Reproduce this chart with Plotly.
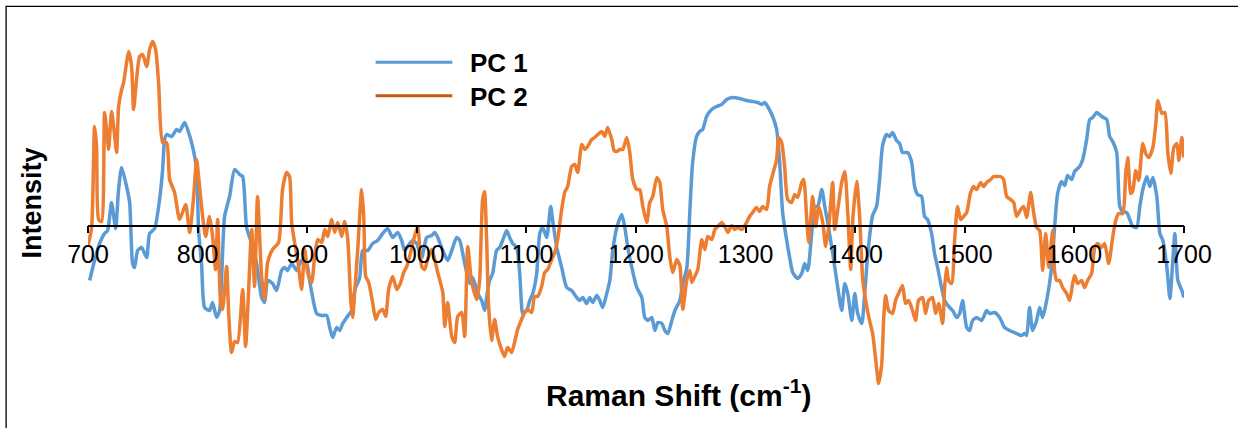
import plotly.graph_objects as go

# ---------------- data (Raman shift in cm-1, intensity in arbitrary units) ----------------
pc1_x = [701.5, 706.0, 710.6, 715.1, 717.9, 721.5, 725.2, 727.9, 730.7, 735.2, 738.0, 740.7, 742.5, 745.3,
         748.9, 753.5, 756.2, 760.8, 765.3, 768.1, 769.9, 771.7, 776.3, 780.8, 783.6, 788.1, 790.9, 795.4,
         799.1, 800.9, 803.6, 806.4, 810.9, 813.7, 817.3, 820.1, 824.6, 829.2, 833.8, 838.3, 841.1, 844.7,
         849.3, 853.9, 858.4, 861.2, 863.9, 868.4, 872.1, 876.6, 879.4, 882.1, 885.8, 890.4, 894.9, 899.5,
         902.2, 905.0, 908.6, 913.2, 917.8, 920.5, 923.2, 926.9, 929.6, 932.4, 936.0, 940.6, 943.3, 947.9,
         950.6, 955.2, 959.7, 964.3, 968.9, 973.4, 978.0, 982.6, 986.2, 988.9, 993.5, 996.3, 999.9, 1004.5,
         1009.0, 1013.6, 1016.4, 1019.1, 1023.7, 1028.2, 1031.9, 1036.4, 1039.2, 1043.7, 1048.3, 1051.0,
         1055.6, 1059.2, 1062.0, 1063.7, 1066.4, 1069.2, 1072.8, 1075.6, 1078.3, 1082.0, 1084.7, 1087.5,
         1091.1, 1093.9, 1095.7, 1096.6, 1100.3, 1103.0, 1105.8, 1109.4, 1112.2, 1114.9, 1118.5, 1122.2,
         1124.0, 1127.7, 1132.2, 1136.8, 1141.3, 1145.9, 1148.6, 1151.4, 1155.0, 1157.8, 1160.5, 1164.2,
         1166.9, 1169.7, 1173.3, 1176.1, 1178.8, 1182.5, 1187.0, 1189.8, 1192.5, 1196.2, 1200.7, 1205.3,
         1208.0, 1210.8, 1214.4, 1217.2, 1219.9, 1223.6, 1226.3, 1229.1, 1232.7, 1235.5, 1240.0, 1242.8,
         1246.4, 1249.2, 1251.6, 1255.3, 1258.0, 1260.8, 1264.4, 1269.0, 1273.5, 1278.1, 1282.7, 1288.1,
         1294.5, 1300.9, 1306.4, 1311.0, 1314.6, 1317.4, 1320.1, 1324.7, 1328.3, 1331.1, 1333.8, 1337.5,
         1340.2, 1343.0, 1347.5, 1351.2, 1353.9, 1356.7, 1360.3, 1363.1, 1365.8, 1369.5, 1372.2, 1374.9,
         1379.5, 1384.1, 1387.7, 1390.5, 1393.2, 1396.9, 1399.6, 1402.3, 1406.0, 1408.7, 1411.5, 1415.9,
         1419.5, 1422.2, 1425.0, 1428.6, 1431.3, 1434.1, 1437.7, 1440.5, 1443.2, 1447.8, 1451.4, 1454.2,
         1456.9, 1460.6, 1463.3, 1466.0, 1469.7, 1472.4, 1475.2, 1478.8, 1481.6, 1486.1, 1488.9, 1492.5,
         1495.3, 1498.0, 1501.7, 1504.4, 1507.1, 1510.8, 1515.4, 1519.9, 1522.6, 1527.2, 1531.8, 1536.3,
         1540.9, 1547.3, 1551.8, 1554.6, 1556.4, 1559.1, 1561.9, 1565.5, 1568.3, 1571.0, 1574.7, 1579.2,
         1581.9, 1584.7, 1588.3, 1591.1, 1593.8, 1597.5, 1600.2, 1604.8, 1607.6, 1611.2, 1614.0, 1616.7,
         1620.4, 1624.9, 1629.5, 1632.2, 1635.0, 1638.6, 1641.4, 1644.1, 1647.8, 1650.5, 1653.3, 1656.9,
         1659.7, 1662.4, 1666.1, 1668.8, 1671.6, 1675.2, 1678.0, 1680.7, 1684.4, 1687.1, 1689.8, 1691.7,
         1694.4, 1698.1, 1699.9]
pc1_y = [-5.5, -3.5, -1.8, -0.8, -0.5, 2.3, -0.3, 3.6, 5.8, 3.9, 2.3, -3.8, -4.2, -2.5,
         -2.2, -3.2, -0.8, -0.3, 2.6, 5.6, 8.6, 9.1, 8.9, 9.6, 9.4, 10.3, 9.6, 7.9,
         5.6, -0.5, -3.8, -8.2, -8.5, -7.7, -9.2, -8.5, 0.9, 2.9, 5.6, 5.1, 4.9, -0.2,
         -1.8, -3.8, -7.2, -7.7, -5.5, -5.8, -6.5, -4.5, -4.2, -4.5, -3.8, -4.5, -3.5, -3.8,
         -5.5, -7.2, -8.8, -9.0, -9.0, -10.2, -11.2, -10.2, -10.5, -9.8, -9.2, -8.5, -6.5, -5.2,
         -2.5, -2.5, -1.8, -1.5, -0.8, -0.3, -1.2, -0.7, -1.5, -2.5, -1.8, -1.5, -1.8, -3.2,
         -1.2, -1.0, -0.7, -1.2, -2.5, -3.5, -2.5, -1.2, -1.5, -3.8, -5.8, -5.2,
         -6.8, -7.5, -8.5, -7.2, -5.5, -4.8, -2.5, -2.2, -1.5, -0.5, -1.2, -1.8,
         -2.2, -4.8, -8.2, -8.8, -8.5, -7.5, -6.8, -4.8, -0.8, -0.2, -1.2, 1.9,
         0.5, -2.2, -4.2, -6.2, -6.5, -7.2, -7.5, -7.2, -7.8, -7.2, -7.7, -7.0,
         -7.5, -8.2, -6.8, -5.5, -2.5, -0.2, 1.1, -0.2, -2.2, -4.2, -6.2, -7.2,
         -9.2, -9.5, -9.2, -10.5, -9.7, -9.8, -10.5, -10.8, -9.5, -8.5, -7.5, -5.8,
         -4.2, 1.6, 6.2, 8.9, 9.4, 9.6, 10.9, 11.6, 11.9, 12.1, 12.6, 12.8,
         12.7, 12.5, 12.4, 12.3, 12.1, 12.3, 11.9, 10.9, 9.6, 6.3, 1.3, -1.5,
         -3.2, -4.7, -5.3, -4.8, -3.8, -4.5, -0.8, 1.9, 1.9, 3.6, 1.9, 0.3,
         -2.8, -6.2, -8.5, -5.8, -6.8, -9.5, -6.8, -8.8, -9.8, -6.8, -2.8, 1.0,
         1.9, 4.5, 8.0, 9.1, 8.9, 9.3, 8.5, 8.2, 7.3, 7.3, 6.4, 3.9,
         3.1, 2.9, 0.9, 0.6, -0.8, -2.8, -4.2, -6.2, -7.5, -8.2, -8.5, -9.2,
         -8.8, -7.5, -10.2, -10.5, -9.5, -9.2, -9.5, -8.5, -8.8, -8.7, -9.2, -10.2,
         -10.5, -10.8, -11.0, -10.8, -11.0, -8.2, -10.5, -9.5, -8.2, -9.2, -7.5, -4.2,
         -0.2, 3.2, 4.4, 4.0, 5.0, 4.6, 5.4, 5.9, 6.6, 8.6, 10.6, 10.8,
         11.3, 10.9, 10.6, 8.9, 8.4, 7.3, 1.9, 1.4, 1.3, 0.6, -0.1, -0.2,
         1.9, 3.6, 4.9, 3.9, 4.8, 2.9, -0.8, -1.5, -4.2, -7.3, -3.5, -0.8,
         -5.5, -6.5, -7.2]

pc2_x = [700.0, 703.3, 706.0, 707.8, 709.7, 712.4, 715.1, 717.0, 718.8, 721.5, 723.4, 726.1, 727.9, 730.7,
         732.5, 735.2, 737.1, 739.8, 741.6, 744.3, 747.1, 749.8, 753.5, 756.2, 758.9, 761.7, 764.4, 768.1,
         771.7, 774.5, 779.0, 783.6, 789.1, 792.7, 796.4, 799.1, 800.9, 804.6, 807.3, 810.9, 813.7, 816.4,
         818.3, 821.0, 822.8, 826.5, 828.3, 831.0, 833.8, 836.5, 841.1, 843.8, 846.5, 849.3, 852.0, 854.7,
         858.4, 861.2, 863.9, 868.4, 873.9, 877.5, 881.2, 883.9, 885.8, 888.5, 891.3, 894.9, 897.7, 900.4,
         904.1, 906.8, 909.6, 913.2, 916.0, 918.7, 922.3, 925.1, 927.8, 931.5, 934.2, 937.0, 939.7, 941.5,
         943.3, 946.1, 949.7, 951.6, 953.4, 956.1, 959.7, 962.5, 965.2, 968.9, 971.6, 974.3, 978.0, 981.7,
         985.3, 988.0, 990.8, 994.4, 997.2, 1000.8, 1004.5, 1007.2, 1009.9, 1013.6, 1016.4, 1019.1, 1023.7,
         1025.5, 1028.2, 1031.9, 1034.6, 1037.3, 1041.0, 1043.7, 1046.5, 1050.1, 1054.7, 1057.3, 1060.0,
         1061.8, 1063.7, 1065.5, 1068.2, 1071.0, 1073.7, 1077.3, 1080.1, 1082.8, 1086.5, 1089.2, 1092.0,
         1095.6, 1098.4, 1101.1, 1104.8, 1107.5, 1110.3, 1113.9, 1116.7, 1119.4, 1123.1, 1125.8, 1128.5,
         1132.2, 1134.9, 1137.7, 1141.3, 1144.1, 1146.8, 1150.5, 1153.2, 1155.9, 1159.6, 1162.3, 1165.1,
         1168.8, 1171.5, 1174.2, 1177.9, 1180.0, 1182.5, 1185.2, 1187.9, 1191.6, 1194.3, 1197.1, 1200.7,
         1203.4, 1206.2, 1209.8, 1212.6, 1215.3, 1219.0, 1221.7, 1224.4, 1228.1, 1230.8, 1233.5, 1237.2,
         1240.0, 1242.7, 1246.4, 1249.1, 1250.9, 1253.6, 1256.4, 1260.0, 1262.8, 1265.5, 1269.2, 1271.9,
         1274.6, 1278.3, 1281.0, 1283.8, 1287.4, 1290.2, 1292.9, 1296.6, 1300.9, 1303.6, 1306.4, 1310.0,
         1312.8, 1315.5, 1319.2, 1321.9, 1324.7, 1328.3, 1330.2, 1332.9, 1335.6, 1338.4, 1342.0, 1344.8,
         1347.5, 1351.2, 1353.0, 1355.8, 1357.6, 1361.2, 1364.0, 1366.7, 1370.4, 1373.1, 1375.9, 1379.5,
         1381.3, 1384.1, 1387.7, 1390.5, 1393.2, 1395.9, 1397.8, 1401.4, 1404.2, 1406.9, 1410.5, 1413.1,
         1415.9, 1419.5, 1421.3, 1424.1, 1426.0, 1427.7, 1430.5, 1434.1, 1436.8, 1439.6, 1443.2, 1445.9,
         1448.7, 1452.3, 1455.1, 1457.8, 1461.5, 1464.2, 1467.0, 1470.6, 1473.4, 1476.1, 1479.8, 1481.6,
         1483.4, 1485.2, 1488.0, 1490.7, 1493.4, 1496.2, 1498.9, 1501.7, 1505.3, 1508.1, 1510.8, 1514.5,
         1517.2, 1519.9, 1523.6, 1526.3, 1529.1, 1532.7, 1535.4, 1538.2, 1541.8, 1544.6, 1547.3, 1551.0,
         1553.7, 1556.4, 1560.1, 1562.8, 1565.5, 1568.3, 1571.0, 1573.8, 1576.5, 1580.2, 1581.9, 1583.8,
         1586.5, 1589.3, 1592.9, 1595.7, 1598.4, 1600.2, 1602.9, 1606.6, 1609.3, 1612.1, 1615.7, 1618.5,
         1621.2, 1624.9, 1627.6, 1631.3, 1634.9, 1637.7, 1640.4, 1644.1, 1646.8, 1648.7, 1651.4, 1653.3,
         1656.0, 1658.7, 1662.4, 1665.1, 1667.9, 1671.6, 1674.3, 1676.1, 1679.8, 1682.5, 1685.3, 1688.0,
         1690.7, 1693.5, 1695.3, 1698.1, 1699.9]
pc2_y = [-2.0, -0.2, 9.9, 7.9, 0.6, 0.4, 11.3, 9.6, 7.6, 11.4, 9.9, 7.3, 11.9, 13.6,
         14.3, 16.3, 17.4, 15.9, 11.6, 14.6, 16.9, 17.1, 15.9, 17.6, 18.4, 17.6, 14.3, 8.3,
         8.3, 4.6, 3.3, 0.6, 2.1, -0.7, 2.9, 6.6, 4.9, 0.9, -1.1, 0.9, -1.1, -4.4,
         0.6, -7.7, -8.4, -4.1, -8.7, -12.7, -11.6, -11.7, -6.4, -12.1, -6.7, -0.4, -6.1, 2.9,
         -5.1, -7.4, -3.7, -2.4, -1.7, 3.6, 5.3, 4.9, 0.3, -1.7, -3.4, -6.4, -2.4, -4.7,
         -5.7, -3.1, -1.4, -1.7, -0.4, -1.1, 0.6, -0.7, 0.3, -1.1, 0.4, -1.4, -7.4, -9.2,
         -6.7, -2.4, 3.6, 0.9, -5.1, -5.7, -7.7, -9.4, -8.7, -8.4, -9.1, -6.4, -5.1, -6.4,
         -5.7, -4.7, -4.1, -2.7, -1.4, -0.1, -4.1, -4.4, -3.4, -2.4, -3.4, -4.7, -6.7,
         -10.1, -7.7, -11.1, -11.7, -9.1, -8.7, -11.1, -2.1, -5.7, -7.4, -5.5, 2.5,
         3.4, -1.4, -8.0, -11.5, -9.4, -11.1, -12.4, -13.1, -12.2, -12.7, -11.7, -10.4,
         -9.4, -8.7, -8.4, -8.7, -7.1, -7.1, -6.1, -4.7, -4.4, -3.4, -2.7, -1.4,
         1.6, 3.3, 3.9, 5.9, 6.1, 5.3, 8.1, 7.6, 7.9, 8.6, 8.8, 9.1,
         9.4, 8.9, 9.8, 8.6, 7.5, 7.4, 7.6, 7.6, 8.8, 7.3, 4.6, 3.6,
         3.6, 1.9, 0.3, 2.3, 2.9, 4.8, 4.3, 1.6, -0.1, -3.1, -4.7, -3.4,
         -4.0, -8.4, -5.4, -4.5, -5.7, -5.1, -4.4, -1.4, -2.4, -1.1, -1.4, -0.4,
         -0.1, 0.3, -0.1, -0.7, 0.0, -0.4, -0.2, -0.4, 0.3, 0.9, 1.3, 1.8,
         1.4, 1.9, 1.6, 3.9, 5.1, 6.6, 8.8, 8.3, 5.9, 2.6, 2.3, 3.1,
         2.8, 4.3, 4.6, 0.6, -1.7, 2.9, -0.1, 1.9, 0.3, -2.1, -0.1, 4.3,
         -0.4, 1.6, 4.3, 5.4, 1.3, -4.4, 0.6, 4.4, 0.6, -5.4, -8.1, -9.5,
         -10.8, -14.2, -15.8, -14.0, -9.3, -7.0, -8.5, -8.8, -7.5, -6.8, -6.0, -7.8,
         -7.5, -8.5, -9.5, -7.5, -7.2, -8.8, -7.5, -7.2, -8.8, -7.8, -9.8, -6.2,
         -4.2, -5.5, -5.8, -1.5, 1.9, 0.6, 0.9, 1.3, 3.3, 3.9, 3.6, 4.3,
         3.9, 4.3, 4.6, 4.9, 4.9, 4.9, 4.6, 2.9, 2.6, 2.3, 0.9, 1.6,
         1.9, 0.8, 3.3, 1.3, -0.2, -0.5, -4.5, -0.8, -4.2, -0.5, -4.5, -5.5,
         -5.5, -6.2, -6.8, -7.5, -5.8, -5.0, -5.8, -5.5, -6.2, -5.5, -4.8, -2.2,
         -1.8, -2.2, -1.8, -3.8, -1.2, 0.5, 1.2, 1.2, 5.2, 6.8, 3.2, 3.5,
         5.5, 4.5, 8.2, 7.2, 6.8, 7.8, 10.2, 12.5, 11.2, 11.3, 7.2, 5.2,
         7.8, 8.2, 6.5, 8.8, 6.8]

series_names = ["PC 1", "PC 2"]
x_ticks = [700, 800, 900, 1000, 1100, 1200, 1300, 1400, 1500, 1600, 1700]
x_title = "Raman Shift (cm<sup>-1</sup>)"
y_title = "Intensity"

# ---------------- styling ----------------
BLUE = "#5B9BD5"
ORANGE = "#ED7D31"
ORANGE_LEGEND = "#C55A11"
FONT = "Liberation Sans, Arial, sans-serif"

W, H = 1238, 428
ML, MR, MT, MB = 88.4, 53.6, 20, 8
PW, PH = W - ML - MR, H - MT - MB
Y_RANGE = [-19.45, 20.55]


def px_x(px):
    return (px - ML) / PW


def px_y(py):
    return (H - MB - py) / PH


fig = go.Figure()
fig.add_trace(go.Scatter(x=pc1_x, y=pc1_y, mode="lines", name=series_names[0],
                         line=dict(color=BLUE, width=3.5, shape="spline", smoothing=0.6),
                         showlegend=False))
fig.add_trace(go.Scatter(x=pc2_x, y=pc2_y, mode="lines", name=series_names[1],
                         line=dict(color=ORANGE, width=3.5, shape="spline", smoothing=0.6),
                         showlegend=False))

zero_pos = (0 - Y_RANGE[0]) / (Y_RANGE[1] - Y_RANGE[0])

fig.update_layout(
    width=W, height=H,
    margin=dict(l=ML, r=MR, t=MT, b=MB, autoexpand=False),
    paper_bgcolor="white", plot_bgcolor="white",
    font=dict(family=FONT, color="black"),
    xaxis=dict(range=[700, 1700], tickvals=x_ticks, ticktext=[str(v) for v in x_ticks],
               anchor="free", position=zero_pos, showline=True, linecolor="black", linewidth=1.5,
               ticks="outside", ticklen=7, tickwidth=1.5, tickcolor="black",
               showgrid=False, zeroline=False, tickfont=dict(size=25, family=FONT, color="black")),
    yaxis=dict(range=Y_RANGE, visible=False, showgrid=False, zeroline=False),
    showlegend=False,
)

shapes = [
    # chart frame
    dict(type="rect", xref="paper", yref="paper", x0=px_x(6.5), x1=px_x(1250), y0=px_y(440), y1=px_y(6.3),
         line=dict(color="black", width=1.3), fillcolor="rgba(0,0,0,0)", layer="below"),
    # legend lines
    dict(type="line", xref="paper", yref="paper", x0=px_x(376), x1=px_x(452.7), y0=px_y(62.3), y1=px_y(62.3),
         line=dict(color=BLUE, width=3)),
    dict(type="line", xref="paper", yref="paper", x0=px_x(376), x1=px_x(452.7), y0=px_y(95.7), y1=px_y(95.7),
         line=dict(color=ORANGE_LEGEND, width=3)),
]

annotations = [
    dict(text="<b>" + series_names[0] + "</b>", xref="paper", yref="paper", x=px_x(468), y=px_y(63),
         xanchor="left", yanchor="middle", showarrow=False, font=dict(size=26, family=FONT, color="black")),
    dict(text="<b>" + series_names[1] + "</b>", xref="paper", yref="paper", x=px_x(468), y=px_y(96.5),
         xanchor="left", yanchor="middle", showarrow=False, font=dict(size=26, family=FONT, color="black")),
    dict(text="<b>" + x_title + "</b>", xref="paper", yref="paper", x=px_x(679), y=px_y(393),
         xanchor="center", yanchor="middle", showarrow=False, font=dict(size=30, family=FONT, color="black")),
    dict(text="<b>" + y_title + "</b>", xref="paper", yref="paper", x=px_x(32), y=px_y(203),
         xanchor="center", yanchor="middle", textangle=-90, showarrow=False,
         font=dict(size=27, family=FONT, color="black")),
]

fig.update_layout(shapes=shapes, annotations=annotations)

fig.write_html("out.html", config={"displayModeBar": False},
               post_script="document.body.style.margin='0px';document.body.style.overflow='hidden';")
